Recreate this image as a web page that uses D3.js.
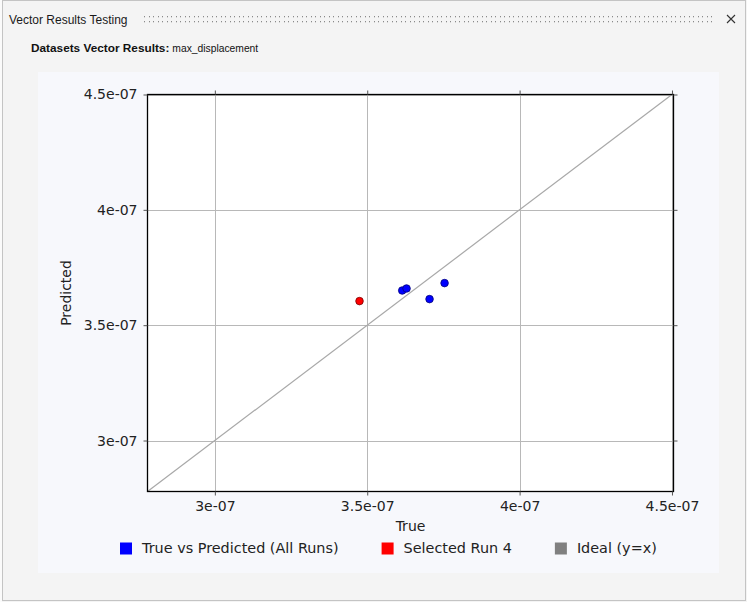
<!DOCTYPE html>
<html>
<head>
<meta charset="utf-8">
<script src="https://cdn.jsdelivr.net/npm/d3@7"></script>
<style>
html,body{margin:0;padding:0;background:#f4f4f4;}
svg{display:block;}
</style>
</head>
<body>
<svg id="chart" width="747" height="602"></svg>
<script>
// ---- data ----
const allRunsTrue = [3.6149e-7, 3.629e-7, 3.7045e-7, 3.7538e-7];
const allRunsPred = [3.6503e-7, 3.659e-7, 3.613e-7, 3.6824e-7];
const selectedTrue = [3.4747e-7];
const selectedPred = [3.6044e-7];
const xTicks = [3e-7, 3.5e-7, 4e-7, 4.5e-7];
const yTicks = [3e-7, 3.5e-7, 4e-7, 4.5e-7];
const tickLabels = ["3e-07", "3.5e-07", "4e-07", "4.5e-07"];
const xDomain = [2.779e-7, 4.505e-7];
const yDomain = [2.779e-7, 4.5e-7];
const legendNames = ["True vs Predicted (All Runs)", "Selected Run 4", "Ideal (y=x)"];
const legendColors = ["#0000ff", "#ff0000", "#808080"];
const windowTitle = "Vector Results Testing";
const subtitleBold = "Datasets Vector Results:";
const subtitleText = "max_displacement";

const svg = d3.select("#chart");
const W = 747, H = 602;

// window chrome
svg.append("rect").attr("x",0).attr("y",0).attr("width",W).attr("height",H).attr("fill","#f4f4f4");
svg.append("rect").attr("x",0).attr("y",0).attr("width",2).attr("height",H).attr("fill","#fbfbfb");
svg.append("rect").attr("x",2.5).attr("y",0.5).attr("width",743).attr("height",600).attr("fill","none").attr("stroke","#c4c4c4");

svg.append("text").attr("x",9).attr("y",24).attr("font-family","Liberation Sans, Arial, sans-serif")
  .attr("font-size",12).attr("fill","#1a1a1a").text(windowTitle);
// grip dots
const dots = svg.append("g").attr("fill","#8a8a8a");
for (let xx = 144; xx <= 711; xx += 4.5) {
  dots.append("rect").attr("x",Math.round(xx)).attr("y",16).attr("width",1).attr("height",1.3);
  dots.append("rect").attr("x",Math.round(xx)).attr("y",21).attr("width",1).attr("height",1.3);
}
// close X
svg.append("path").attr("d","M727,15 L735,23 M735,15 L727,23").attr("stroke","#333").attr("stroke-width",1.1).attr("fill","none");

const sub = svg.append("text").attr("x",31).attr("y",52).attr("font-family","Liberation Sans, Arial, sans-serif").attr("fill","#111");
sub.append("tspan").attr("font-weight","bold").attr("font-size",11.8).text(subtitleBold);
sub.append("tspan").attr("font-size",10.3).attr("dx",3).text(subtitleText);

// chart container
svg.append("rect").attr("x",38).attr("y",72).attr("width",681).attr("height",501).attr("fill","#f7f8fc");

// scales
const x = d3.scaleLinear().domain(xDomain).range([147.5, 673.5]);
const y = d3.scaleLinear().domain(yDomain).range([491.5, 94.5]);

const plot = svg.append("g");
plot.append("rect").attr("x",x.range()[0]).attr("y",y.range()[1])
  .attr("width",x.range()[1]-x.range()[0]).attr("height",y.range()[0]-y.range()[1]).attr("fill","#ffffff");

// grid
plot.selectAll(".gx").data(xTicks).join("line")
  .attr("x1",d=>Math.round(x(d))+0.5).attr("x2",d=>Math.round(x(d))+0.5)
  .attr("y1",y.range()[1]).attr("y2",y.range()[0]).attr("stroke","#b8b8b8").attr("stroke-width",1);
plot.selectAll(".gy").data(yTicks).join("line")
  .attr("y1",d=>Math.round(y(d))+0.5).attr("y2",d=>Math.round(y(d))+0.5)
  .attr("x1",x.range()[0]).attr("x2",x.range()[1]).attr("stroke","#b8b8b8").attr("stroke-width",1);

// ideal line
const lo = Math.max(xDomain[0], yDomain[0]);
const hi = Math.min(xDomain[1], yDomain[1]);
plot.append("line").attr("x1",x(lo)).attr("y1",y(lo)).attr("x2",x(hi)).attr("y2",y(hi))
  .attr("stroke","#a8a8a8").attr("stroke-width",1.2);

// axes
const fmt = (d,i) => tickLabels[i];
function styleAxis(g){
  g.select(".domain").remove();
  g.selectAll(".tick line").attr("stroke","#555");
  g.selectAll(".tick text").attr("font-family","DejaVu Sans, sans-serif").attr("font-size",14).attr("fill","#222");
}
svg.append("g").attr("transform",`translate(0,${y.range()[0]})`)
  .call(d3.axisBottom(x).tickValues(xTicks).tickFormat(fmt).tickSize(4).tickPadding(6)).call(styleAxis);
svg.append("g").attr("transform",`translate(0,${y.range()[1]})`)
  .call(d3.axisTop(x).tickValues(xTicks).tickFormat("").tickSize(4)).call(styleAxis);
svg.append("g").attr("transform",`translate(${x.range()[0]},0)`)
  .call(d3.axisLeft(y).tickValues(yTicks).tickFormat(fmt).tickSize(4).tickPadding(6)).call(styleAxis);
svg.append("g").attr("transform",`translate(${x.range()[1]},0)`)
  .call(d3.axisRight(y).tickValues(yTicks).tickFormat("").tickSize(4)).call(styleAxis);

// frame
plot.append("rect").attr("x",x.range()[0]).attr("y",y.range()[1])
  .attr("width",x.range()[1]-x.range()[0]).attr("height",y.range()[0]-y.range()[1])
  .attr("fill","none").attr("stroke","#000").attr("stroke-width",1.3);

// points
const allPts = allRunsTrue.map((t,i)=>({t, p: allRunsPred[i]}));
const selPts = selectedTrue.map((t,i)=>({t, p: selectedPred[i]}));
svg.append("g").selectAll("circle").data(allPts).join("circle")
  .attr("cx",d=>x(d.t)).attr("cy",d=>y(d.p)).attr("r",3.8)
  .attr("fill","#0000ff").attr("stroke","#00007a").attr("stroke-width",0.8);
svg.append("g").selectAll("circle").data(selPts).join("circle")
  .attr("cx",d=>x(d.t)).attr("cy",d=>y(d.p)).attr("r",3.8)
  .attr("fill","#ff0000").attr("stroke","#7a0000").attr("stroke-width",0.8);

// axis titles
svg.append("text").attr("x",(x.range()[0]+x.range()[1])/2).attr("y",531)
  .attr("text-anchor","middle").attr("font-family","DejaVu Sans, sans-serif").attr("font-size",14).attr("fill","#222").text("True");
svg.append("text").attr("transform",`translate(71,${(y.range()[0]+y.range()[1])/2}) rotate(-90)`)
  .attr("text-anchor","middle").attr("font-family","DejaVu Sans, sans-serif").attr("font-size",14).attr("fill","#222").text("Predicted");

// legend
let lx = 120;
legendNames.forEach((name,i)=>{
  const g = svg.append("g");
  g.append("rect").attr("x",lx).attr("y",542.5).attr("width",12).attr("height",12).attr("fill",legendColors[i]);
  const t = g.append("text").attr("x",lx+22).attr("y",553).attr("font-family","DejaVu Sans, sans-serif")
    .attr("font-size",14.4).attr("fill","#222").text(name);
  lx += 22 + t.node().getComputedTextLength() + 43;
});
</script>
</body>
</html>
